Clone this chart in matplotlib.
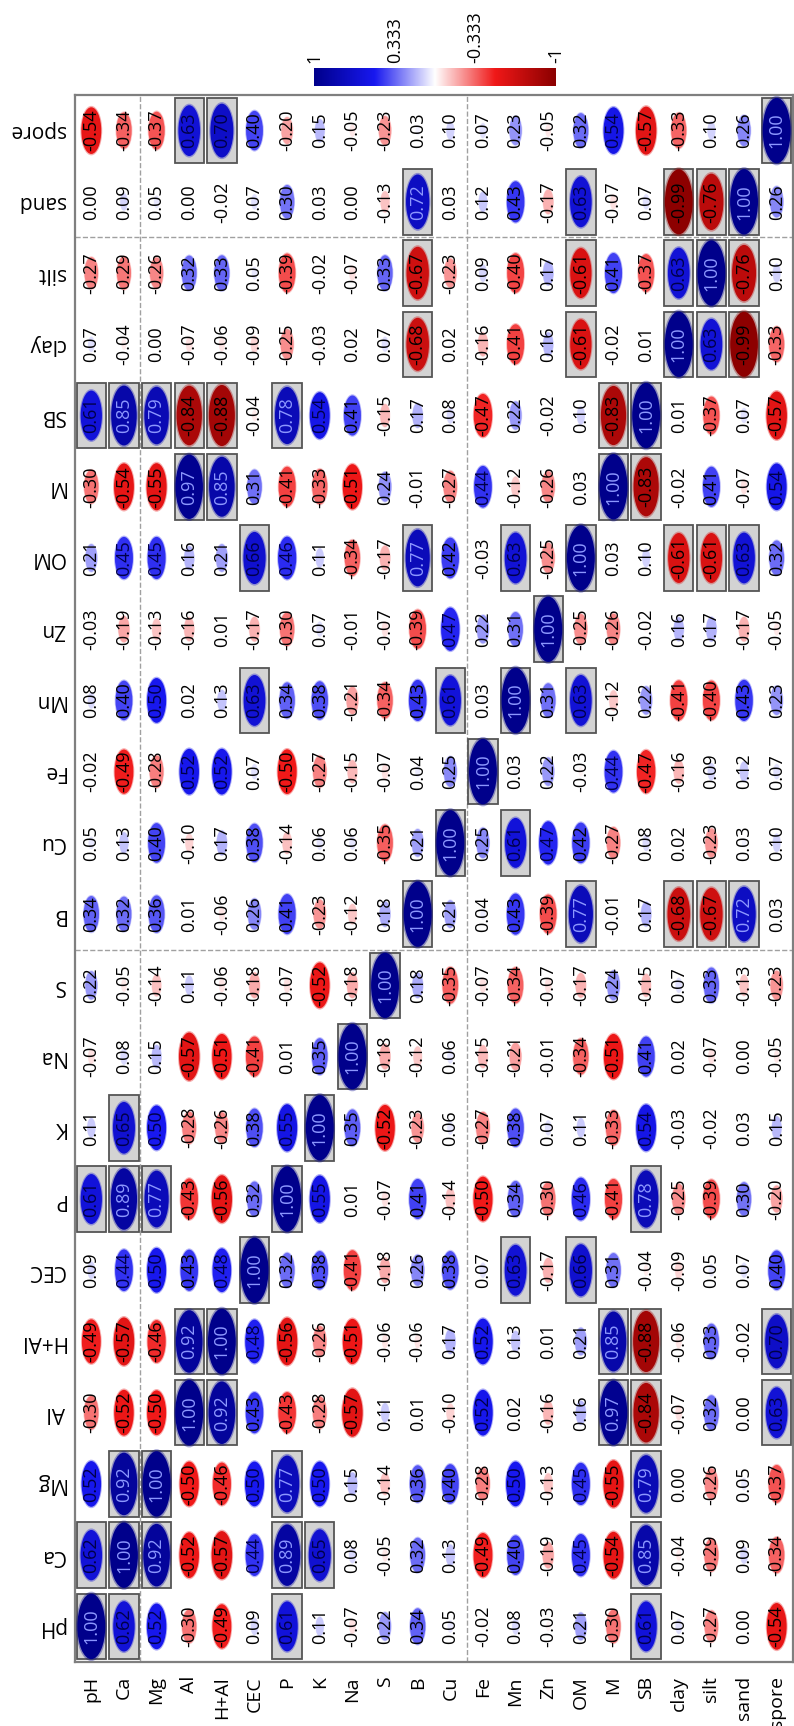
import numpy as np
import matplotlib
matplotlib.use('Agg')
import matplotlib.pyplot as plt
from matplotlib.patches import Ellipse, Rectangle
from matplotlib.colors import LinearSegmentedColormap

plt.rcParams['font.family'] = ['Open Sans', 'DejaVu Sans']

labels = ['pH', 'Ca', 'Mg', 'Al', 'H+Al', 'CEC', 'P', 'K', 'Na', 'S', 'B', 'Cu',
          'Fe', 'Mn', 'Zn', 'OM', 'M', 'SB', 'clay', 'silt', 'sand', 'spore']

# correlation rows, columns in the same order as labels
r_pH = [1.00, 0.62, 0.52, -0.30, -0.49, 0.09, 0.61, 0.11, -0.07, 0.22, 0.34, 0.05, -0.02, 0.08, -0.03, 0.21, -0.30, 0.61, 0.07, -0.27, 0.00, -0.54]
r_Ca = [0.62, 1.00, 0.92, -0.52, -0.57, 0.44, 0.89, 0.65, 0.08, -0.05, 0.32, 0.13, -0.49, 0.40, -0.19, 0.45, -0.54, 0.85, -0.04, -0.29, 0.09, -0.34]
r_Mg = [0.52, 0.92, 1.00, -0.50, -0.46, 0.50, 0.77, 0.50, 0.15, -0.14, 0.36, 0.40, -0.28, 0.50, -0.13, 0.45, -0.55, 0.79, 0.00, -0.26, 0.05, -0.37]
r_Al = [-0.30, -0.52, -0.50, 1.00, 0.92, 0.43, -0.43, -0.28, -0.57, 0.11, 0.01, -0.10, 0.52, 0.02, -0.16, 0.16, 0.97, -0.84, -0.07, 0.32, 0.00, 0.63]
r_HAl = [-0.49, -0.57, -0.46, 0.92, 1.00, 0.48, -0.56, -0.26, -0.51, -0.06, -0.06, 0.17, 0.52, 0.13, 0.01, 0.21, 0.85, -0.88, -0.06, 0.33, -0.02, 0.70]
r_CEC = [0.09, 0.44, 0.50, 0.43, 0.48, 1.00, 0.32, 0.38, -0.41, -0.18, 0.26, 0.38, 0.07, 0.63, -0.17, 0.66, 0.31, -0.04, -0.09, 0.05, 0.07, 0.40]
r_P = [0.61, 0.89, 0.77, -0.43, -0.56, 0.32, 1.00, 0.55, 0.01, -0.07, 0.41, -0.14, -0.50, 0.34, -0.30, 0.46, -0.41, 0.78, -0.25, -0.39, 0.30, -0.20]
r_K = [0.11, 0.65, 0.50, -0.28, -0.26, 0.38, 0.55, 1.00, 0.35, -0.52, -0.23, 0.06, -0.27, 0.38, 0.07, 0.11, -0.33, 0.54, -0.03, -0.02, 0.03, 0.15]
r_Na = [-0.07, 0.08, 0.15, -0.57, -0.51, -0.41, 0.01, 0.35, 1.00, -0.18, -0.12, 0.06, -0.15, -0.21, -0.01, -0.34, -0.51, 0.41, 0.02, -0.07, 0.00, -0.05]
r_S = [0.22, -0.05, -0.14, 0.11, -0.06, -0.18, -0.07, -0.52, -0.18, 1.00, 0.18, -0.35, -0.07, -0.34, -0.07, -0.17, 0.24, -0.15, 0.07, 0.33, -0.13, -0.23]
r_B = [0.34, 0.32, 0.36, 0.01, -0.06, 0.26, 0.41, -0.23, -0.12, 0.18, 1.00, 0.21, 0.04, 0.43, -0.39, 0.77, -0.01, 0.17, -0.68, -0.67, 0.72, 0.03]
r_Cu = [0.05, 0.13, 0.40, -0.10, 0.17, 0.38, -0.14, 0.06, 0.06, -0.35, 0.21, 1.00, 0.25, 0.61, 0.47, 0.42, -0.27, 0.08, 0.02, -0.23, 0.03, 0.10]
r_Fe = [-0.02, -0.49, -0.28, 0.52, 0.52, 0.07, -0.50, -0.27, -0.15, -0.07, 0.04, 0.25, 1.00, 0.03, 0.22, -0.03, 0.44, -0.47, -0.16, 0.09, 0.12, 0.07]
r_Mn = [0.08, 0.40, 0.50, 0.02, 0.13, 0.63, 0.34, 0.38, -0.21, -0.34, 0.43, 0.61, 0.03, 1.00, 0.31, 0.63, -0.12, 0.22, -0.41, -0.40, 0.43, 0.23]
r_Zn = [-0.03, -0.19, -0.13, -0.16, 0.01, -0.17, -0.30, 0.07, -0.01, -0.07, -0.39, 0.47, 0.22, 0.31, 1.00, -0.25, -0.26, -0.02, 0.16, 0.17, -0.17, -0.05]
r_OM = [0.21, 0.45, 0.45, 0.16, 0.21, 0.66, 0.46, 0.11, -0.34, -0.17, 0.77, 0.42, -0.03, 0.63, -0.25, 1.00, 0.03, 0.10, -0.61, -0.61, 0.63, 0.32]
r_M = [-0.30, -0.54, -0.55, 0.97, 0.85, 0.31, -0.41, -0.33, -0.51, 0.24, -0.01, -0.27, 0.44, -0.12, -0.26, 0.03, 1.00, -0.83, -0.02, 0.41, -0.07, 0.54]
r_SB = [0.61, 0.85, 0.79, -0.84, -0.88, -0.04, 0.78, 0.54, 0.41, -0.15, 0.17, 0.08, -0.47, 0.22, -0.02, 0.10, -0.83, 1.00, 0.01, -0.37, 0.07, -0.57]
r_clay = [0.07, -0.04, 0.00, -0.07, -0.06, -0.09, -0.25, -0.03, 0.02, 0.07, -0.68, 0.02, -0.16, -0.41, 0.16, -0.61, -0.02, 0.01, 1.00, 0.63, -0.99, -0.33]
r_silt = [-0.27, -0.29, -0.26, 0.32, 0.33, 0.05, -0.39, -0.02, -0.07, 0.33, -0.67, -0.23, 0.09, -0.40, 0.17, -0.61, 0.41, -0.37, 0.63, 1.00, -0.76, 0.10]
r_sand = [0.00, 0.09, 0.05, 0.00, -0.02, 0.07, 0.30, 0.03, 0.00, -0.13, 0.72, 0.03, 0.12, 0.43, -0.17, 0.63, -0.07, 0.07, -0.99, -0.76, 1.00, 0.26]
r_spore = [-0.54, -0.34, -0.37, 0.63, 0.70, 0.40, -0.20, 0.15, -0.05, -0.23, 0.03, 0.10, 0.07, 0.23, -0.05, 0.32, 0.54, -0.57, -0.33, 0.10, 0.26, 1.00]

cbar_ticks = [1, 0.333, -0.333, -1]

R = np.array([r_pH, r_Ca, r_Mg, r_Al, r_HAl, r_CEC, r_P, r_K, r_Na, r_S, r_B, r_Cu,
              r_Fe, r_Mn, r_Zn, r_OM, r_M, r_SB, r_clay, r_silt, r_sand, r_spore])
n = len(labels)

cmap = LinearSegmentedColormap.from_list('rwb', [(0.0, '#8b0000'), (0.25, '#f01818'), (0.5, '#ffffff'),
                                                 (0.75, '#1818f0'), (1.0, '#00008b')])
def col(v):
    return cmap((v + 1) / 2)

fig = plt.figure(figsize=(7.94, 17.26), dpi=100)
ax = fig.add_axes([75/794, 64/1726, 718/794, 1567/1726])
ax.set_xlim(0, n)
ax.set_ylim(0, n)
ax.set_xticks([])
ax.set_yticks([])
for sp in ax.spines.values():
    sp.set_color('#7f7f7f')
    sp.set_linewidth(1.6)

for i in range(n):
    for j in range(n):
        r = R[i, j]
        cx, cy = j + 0.5, i + 0.5
        if abs(r) >= 0.6:
            ax.add_patch(Rectangle((j + 0.05, i + 0.04), 0.9, 0.92, fc='#d3d3d3', ec='#555555', lw=1.3, zorder=1))
        s = 0.92 * abs(r) ** 0.55
        ax.add_patch(Ellipse((cx, cy), s * 1.02, s * 1.06, fc=col(r), ec='none', alpha=0.35, zorder=3))
        ax.add_patch(Ellipse((cx, cy), s * 0.93, s, fc=col(r), ec='none', zorder=3))
        if r >= 0.72:
            tc = '#8d98ff'
        elif r >= 0.44:
            tc = '#000048'   # mid blue: number almost lost in the ellipse
        else:
            tc = 'black'
        ax.text(cx, cy, f'{r:.2f}', rotation=90, ha='center', va='center', fontsize=13,
                color=tc, zorder=4)

# dashed separators
for x in [2, 12]:
    ax.axvline(x, color='#a0a0a0', ls='--', lw=1, zorder=0.5)
for y in [10, 20]:
    ax.axhline(y, color='#a0a0a0', ls='--', lw=1, zorder=0.5)

for k, lab in enumerate(labels):
    ax.text(-0.3, k + 0.5, lab, rotation=180, ha='right', va='center', fontsize=15)
    ax.text(k + 0.5, -0.2, lab, rotation=90, ha='center', va='top', fontsize=14)

# colour bar
cax = fig.add_axes([314/794, (1726 - 86)/1726, 242/794, 18/1726])
grad = np.linspace(1, -1, 256).reshape(1, -1)
cax.imshow(grad, cmap=cmap, vmin=-1, vmax=1, aspect='auto', extent=[0, 1, 0, 1])
cax.set_axis_off()
for t in cbar_ticks:
    lab = '1' if t == 1 else ('-1' if t == -1 else f'{t:.3f}')
    cax.text((1 - t) / 2, 1.3, lab, rotation=90, ha='center', va='bottom', fontsize=13, transform=cax.transAxes)

fig.savefig('out.png', dpi=100)
